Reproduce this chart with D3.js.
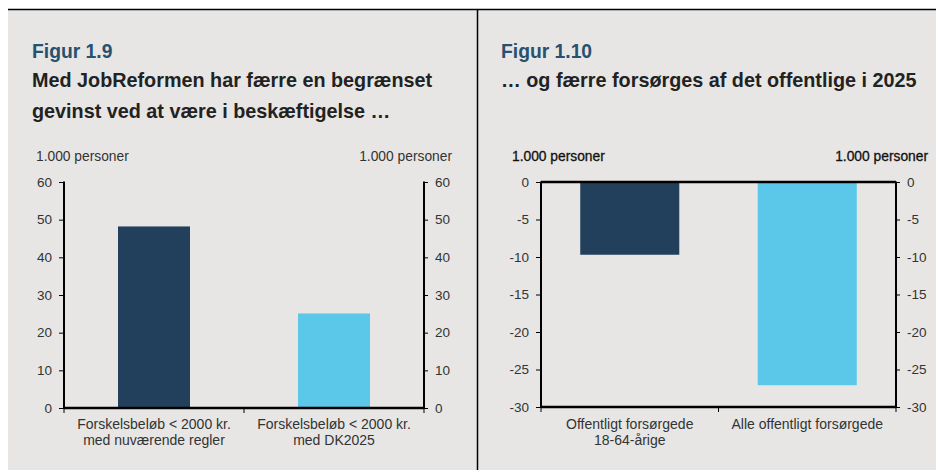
<!DOCTYPE html>
<html>
<head>
<meta charset="utf-8">
<script src="https://cdn.jsdelivr.net/npm/d3@7"></script>
<style>
  body { margin: 0; background: #fff; }
  svg { display: block; font-family: "Liberation Sans", Arial, sans-serif; }
</style>
</head>
<body>
<div id="vis"></div>
<script>
////////data////////////////////////////////////////////////
const cats1 = [["Forskelsbeløb < 2000 kr.", "med nuværende regler"], ["Forskelsbeløb < 2000 kr.", "med DK2025"]];
const values1 = [48.2, 25.1];
const ticks1 = [0, 10, 20, 30, 40, 50, 60];

const cats2 = [["Offentligt forsørgede", "18-64-årige"], ["Alle offentligt forsørgede"]];
const values2 = [-9.7, -27.1];
const ticks2 = [0, -5, -10, -15, -20, -25, -30];

const colors = ["#22405c", "#5bc8e9"];
const unit = "1.000 personer";

////////setting up/////////////////////////////////////////
const width = 936, height = 470;
const bg = "#e7e6e4";
const svg = d3.select("#vis").append("svg")
  .attr("width", width).attr("height", height);

svg.append("rect").attr("x", 8).attr("y", 9).attr("width", width - 8).attr("height", height - 9).attr("fill", bg);
svg.append("line").attr("x1", 8).attr("x2", width).attr("y1", 9.5).attr("y2", 9.5)
  .attr("stroke", "#000").attr("stroke-width", 1.5);
svg.append("line").attr("x1", 477.5).attr("x2", 477.5).attr("y1", 9).attr("y2", height)
  .attr("stroke", "#000").attr("stroke-width", 1.5);

////////one panel//////////////////////////////////////////
function panel(o) {
  const g = svg.append("g");
  g.append("text").attr("x", o.tx).attr("y", 58)
    .attr("font-size", 19.3).attr("font-weight", "bold").attr("fill", "#28506f")
    .text(o.fig);
  o.title.forEach((t, i) => {
    g.append("text").attr("x", o.tx).attr("y", 87 + i * 31)
      .attr("font-size", 19.8).attr("font-weight", "bold").attr("fill", "#222")
      .text(t);
  });

  const x = d3.scaleBand().domain(d3.range(o.values.length)).range([o.x0, o.x1])
    .paddingInner(o.pad).paddingOuter(o.pad / 2);
  const y = d3.scaleLinear().domain(o.domain).range([o.y0, o.y1]);

  g.append("text").attr("x", o.ux0).attr("y", 161).attr("font-size", 13.8).attr("fill", o.unitFill)
    .attr("stroke", o.unitStroke).attr("stroke-width", 0.3).text(unit);
  g.append("text").attr("x", o.ux1).attr("y", 161).attr("font-size", 13.8).attr("fill", o.unitFill)
    .attr("stroke", o.unitStroke).attr("stroke-width", 0.3).attr("text-anchor", "end").text(unit);

  // bars
  g.selectAll("rect.bar").data(o.values).join("rect").attr("class", "bar")
    .attr("x", (d, i) => x(i))
    .attr("width", x.bandwidth())
    .attr("y", d => y(Math.max(0, d)))
    .attr("height", d => Math.abs(y(d) - y(0)))
    .attr("fill", (d, i) => colors[i]);

  // y axes
  const yl = d3.axisLeft(y).tickValues(o.ticks).tickSize(5).tickPadding(7).tickFormat(d => String(d));
  const yr = d3.axisRight(y).tickValues(o.ticks).tickSize(4).tickPadding(7).tickFormat(d => String(d));
  [[yl, o.x0], [yr, o.x1]].forEach(([ax, xx]) => {
    const a = g.append("g").attr("transform", `translate(${xx},0)`).call(ax);
    a.select(".domain").attr("stroke", "#000").attr("stroke-width", 2)
      .attr("d", `M0,${o.y0}V${o.y1 - 0.5}`);
    a.selectAll(".tick line").attr("stroke", "#000").attr("stroke-width", 1);
    a.selectAll(".tick text").attr("font-size", 13.5).attr("fill", "#333")
      .attr("font-family", "Liberation Sans, Arial, sans-serif");
  });

  // x axis at bottom
  const bx = g.append("g").attr("transform", `translate(0,${o.y0})`);
  bx.append("line").attr("x1", o.x0).attr("x2", o.x1).attr("stroke", "#000").attr("stroke-width", 2.5);
  [o.x0, (o.x0 + o.x1) / 2, o.x1].forEach(t => {
    bx.append("line").attr("x1", t).attr("x2", t).attr("y1", 0).attr("y2", 5).attr("stroke", "#000").attr("stroke-width", 1);
  });
  // zero line on top for negative chart
  if (o.domain[1] === 0) {
    g.append("line").attr("x1", o.x0).attr("x2", o.x1).attr("y1", y(0)).attr("y2", y(0))
      .attr("stroke", "#000").attr("stroke-width", 2.5);
  }

  // category labels
  o.cats.forEach((lines, i) => {
    const cx = x(i) + x.bandwidth() / 2;
    const t = g.append("text").attr("text-anchor", "middle").attr("font-size", 14).attr("fill", "#333");
    lines.forEach((l, j) => t.append("tspan").attr("x", cx).attr("y", 429 + j * 16).text(l));
  });
}

panel({
  fig: "Figur 1.9",
  title: ["Med JobReformen har færre en begrænset", "gevinst ved at være i beskæftigelse …"],
  tx: 32, ux0: 36, ux1: 452,
  unitFill: "#333", unitStroke: "none",
  values: values1, cats: cats1, ticks: ticks1, domain: [0, 60],
  x0: 64, x1: 424, y0: 408, y1: 182, pad: 0.6
});

panel({
  fig: "Figur 1.10",
  title: ["… og færre forsørges af det offentlige i 2025"],
  tx: 501, ux0: 512, ux1: 928,
  unitFill: "#111", unitStroke: "#111",
  values: values2, cats: cats2, ticks: ticks2, domain: [-30, 0],
  x0: 541, x1: 896, y0: 407, y1: 182, pad: 0.442
});
</script>
</body>
</html>
